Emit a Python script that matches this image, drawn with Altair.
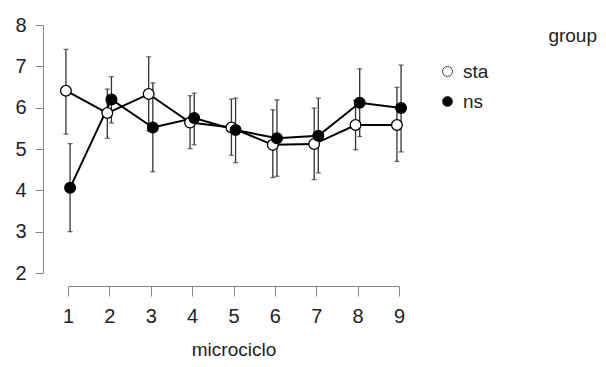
import altair as alt
import pandas as pd

microciclo = [1, 2, 3, 4, 5, 6, 7, 8, 9]
groups = ["sta", "ns"]
sta_mean = [6.41, 5.87, 6.33, 5.64, 5.52, 5.10, 5.12, 5.58, 5.58]
sta_lo = [5.36, 5.26, 5.44, 5.01, 4.85, 4.31, 4.26, 4.98, 4.70]
sta_hi = [7.41, 6.45, 7.23, 6.29, 6.21, 5.95, 5.99, 6.18, 6.49]
ns_mean = [4.06, 6.20, 5.52, 5.75, 5.46, 5.26, 5.32, 6.12, 5.99]
ns_lo = [3.00, 5.63, 4.45, 5.10, 4.67, 4.34, 4.42, 5.30, 4.93]
ns_hi = [5.13, 6.75, 6.60, 6.35, 6.23, 6.19, 6.23, 6.94, 7.03]
y_ticks = [2, 3, 4, 5, 6, 7, 8]

rows = []
for g, m, lo, hi in [("sta", sta_mean, sta_lo, sta_hi), ("ns", ns_mean, ns_lo, ns_hi)]:
    for i, mc in enumerate(microciclo):
        rows.append({"microciclo": mc, "group": g, "mean": m[i], "lo": lo[i], "hi": hi[i]})
df = pd.DataFrame(rows)

AX = "#888888"
LBL = "#222222"

xenc = alt.X(
    "xd:Q",
    scale=alt.Scale(domain=[1, 9], nice=False, zero=False),
    axis=alt.Axis(
        values=microciclo, grid=False, offset=13, tickSize=10, domainColor=AX, tickColor=AX,
        labelFontSize=20, labelColor=LBL, labelPadding=10, title="microciclo",
        titleFontSize=19, titleFontWeight="normal", titleColor=LBL,
        titleBaseline="alphabetic", titleY=69,
        format="d", labelFlush=False,
    ),
)
yscale = alt.Scale(domain=[2, 8], nice=False, zero=False)
yaxis = alt.Axis(
    values=y_ticks, grid=False, offset=25, tickSize=8, domainColor=AX, tickColor=AX,
    labelFontSize=20, labelColor=LBL, labelPadding=9, title=None, format="d", labelFlush=False,
)

base = alt.Chart(df).transform_calculate(
    xd="datum.microciclo + (datum.group == 'sta' ? -0.05 : 0.05)"
)

rules = base.mark_rule(color="#333333", strokeWidth=1.3).encode(
    x=xenc, y=alt.Y("lo:Q", scale=yscale, axis=yaxis), y2="hi:Q"
)
cap_lo = base.mark_tick(orient="horizontal", size=5, thickness=1.3, color="#333333").encode(
    x=xenc, y=alt.Y("lo:Q", scale=yscale, axis=yaxis)
)
cap_hi = base.mark_tick(orient="horizontal", size=5, thickness=1.3, color="#333333").encode(
    x=xenc, y=alt.Y("hi:Q", scale=yscale, axis=yaxis)
)
lines = base.mark_line(color="black", strokeWidth=2).encode(
    x=xenc, y=alt.Y("mean:Q", scale=yscale, axis=yaxis), detail="group:N"
)
points = base.mark_point(shape="circle", size=115, stroke="black", strokeWidth=1.3,
                         opacity=1, fillOpacity=1).encode(
    x=xenc,
    y=alt.Y("mean:Q", scale=yscale, axis=yaxis),
    fill=alt.Fill(
        "group:N",
        scale=alt.Scale(domain=groups, range=["white", "black"]),
        legend=alt.Legend(
            title=None, orient="none", legendX=370, legendY=37, padding=0,
            symbolType="circle", symbolSize=100, symbolStrokeColor="#444444",
            symbolStrokeWidth=1, labelFontSize=19, labelColor=LBL, labelOffset=6,
            rowPadding=10, symbolOpacity=1,
        ),
    ),
    order=alt.Order("group:N", sort="descending"),
)

title_df = pd.DataFrame({"t": ["group"]})
group_title = alt.Chart(title_df).mark_text(fontSize=19, color=LBL, baseline="middle", align="right").encode(
    x=alt.value(529), y=alt.value(11), text="t:N"
)

chart = alt.layer(rules, cap_lo, cap_hi, lines, points, group_title).properties(
    width=331, height=248,
    autosize=alt.AutoSizeParams(type="none"),
    padding={"left": 60, "top": 17, "right": 199, "bottom": 86},
).configure(font="Liberation Sans").configure_view(stroke=None)

chart.save("out.html", embed_options={"renderer": "svg", "actions": False})
